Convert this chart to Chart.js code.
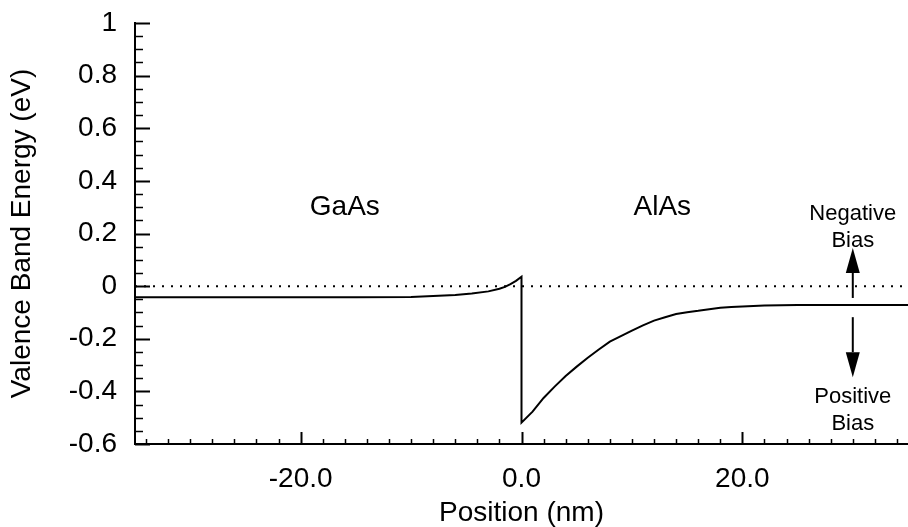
<!DOCTYPE html>
<html>
<head>
<meta charset="utf-8">
<script src="https://cdn.jsdelivr.net/npm/chart.js@4.4.1/dist/chart.umd.min.js"></script>
<style>
  html, body { margin: 0; padding: 0; background: #fff; }
  #wrap { position: relative; width: 908px; height: 527px; }
</style>
</head>
<body>
<div id="wrap"><canvas id="c"></canvas></div>
<script>
// ---- Data ----
const positionNm = [
  -35, -30, -25, -20, -15, -10, -8, -6, -4.5, -3, -2, -1.5, -1, -0.5, 0,
  0, 1, 2, 3, 4, 5, 6, 7, 8, 9, 10, 11, 12, 13, 14, 15, 16, 17, 18, 19, 20, 22, 25, 30, 35
];
const valenceEnergyEv = [
  -0.042, -0.042, -0.042, -0.042, -0.042, -0.041, -0.038, -0.034, -0.028, -0.020, -0.010, -0.003, 0.008, 0.020, 0.036,
  -0.519, -0.477, -0.425, -0.382, -0.342, -0.306, -0.272, -0.241, -0.211, -0.190, -0.169, -0.149, -0.131, -0.118, -0.106,
  -0.099, -0.094, -0.088, -0.082, -0.079, -0.077, -0.074, -0.072, -0.072, -0.072
];
const zeroLineX = [-35, 35];
const zeroLineY = [0, 0];

const xTickValues = [-20, 0, 20];
const xTickLabels = ["-20.0", "0.0", "20.0"];
const yTickValues = [1, 0.8, 0.6, 0.4, 0.2, 0, -0.2, -0.4, -0.6];
const yTickLabels = ["1", "0.8", "0.6", "0.4", "0.2", "0", "-0.2", "-0.4", "-0.6"];

const xTitle = "Position (nm)";
const yTitle = "Valence Band Energy (eV)";

// annotations (data coordinates)
const regionLabels = [
  { text: "GaAs", x: -16, y: 0.27 },
  { text: "AlAs", x: 12.75, y: 0.27 }
];
const biasLabels = [
  { text: "Negative", x: 30, y: 0.251 },
  { text: "Bias", x: 30, y: 0.148 },
  { text: "Positive", x: 30, y: -0.445 },
  { text: "Bias", x: 30, y: -0.548 }
];
const biasArrows = [
  { x: 30, from: -0.045, to: 0.145 },
  { x: 30, from: -0.118, to: -0.346 }
];

const FONT = '"Liberation Sans", Arial, Helvetica, sans-serif';

const toPts = (xs, ys) => xs.map((x, i) => ({ x: x, y: ys[i] }));

const overlayPlugin = {
  id: 'overlay',
  afterDatasetsDraw(chart) {
    const ctx = chart.ctx;
    const xs = chart.scales.x, ys = chart.scales.y;
    const area = chart.chartArea;
    ctx.save();
    ctx.strokeStyle = '#000';
    ctx.fillStyle = '#000';
    // inward y ticks (minor every 0.05, major every 0.2)
    for (let k = -12; k <= 20; k++) {
      const v = k * 0.05;
      const py = Math.round(ys.getPixelForValue(v)) + 0.5;
      const major = (k % 4 === 0);
      ctx.lineWidth = major ? 2 : 1.5;
      ctx.beginPath();
      ctx.moveTo(area.left, py);
      ctx.lineTo(area.left + (major ? 15 : 8), py);
      ctx.stroke();
    }
    // inward x ticks (minor every 2, major every 20)
    for (let k = -17; k <= 17; k++) {
      const v = k * 2;
      const px = Math.round(xs.getPixelForValue(v)) + 0.5;
      const major = (v % 20 === 0);
      ctx.lineWidth = major ? 2 : 1.5;
      ctx.beginPath();
      ctx.moveTo(px, area.bottom);
      ctx.lineTo(px, area.bottom - (major ? 12 : 5));
      ctx.stroke();
    }
    // arrows
    ctx.lineWidth = 2;
    biasArrows.forEach(a => {
      const px = xs.getPixelForValue(a.x);
      const p0 = ys.getPixelForValue(a.from);
      const p1 = ys.getPixelForValue(a.to);
      const dir = p1 < p0 ? -1 : 1;
      const headLen = 25, headHalf = 7;
      ctx.beginPath();
      ctx.moveTo(px, p0);
      ctx.lineTo(px, p1 - dir * headLen);
      ctx.stroke();
      ctx.beginPath();
      ctx.moveTo(px, p1);
      ctx.lineTo(px - headHalf, p1 - dir * headLen);
      ctx.lineTo(px + headHalf, p1 - dir * headLen);
      ctx.closePath();
      ctx.fill();
    });
    // texts
    ctx.textAlign = 'center';
    ctx.textBaseline = 'alphabetic';
    ctx.font = '28px ' + FONT;
    regionLabels.forEach(l => {
      ctx.fillText(l.text, xs.getPixelForValue(l.x), ys.getPixelForValue(l.y));
    });
    ctx.font = '22px ' + FONT;
    biasLabels.forEach(l => {
      ctx.fillText(l.text, xs.getPixelForValue(l.x), ys.getPixelForValue(l.y));
    });
    ctx.restore();
  }
};

new Chart(document.getElementById('c'), {
  type: 'line',
  data: {
    datasets: [
      {
        label: 'Valence band',
        data: toPts(positionNm, valenceEnergyEv),
        borderColor: '#000',
        borderWidth: 2,
        pointRadius: 0,
        tension: 0,
        fill: false
      },
      {
        label: 'Zero',
        data: toPts(zeroLineX, zeroLineY),
        borderColor: '#000',
        borderWidth: 2,
        borderDash: [2, 7],
        pointRadius: 0,
        fill: false
      }
    ]
  },
  options: {
    responsive: true,
    maintainAspectRatio: false,
    devicePixelRatio: 1,
    animation: false,
    layout: { padding: { top: 23, right: 0, left: 0, bottom: 0 } },
    plugins: { legend: { display: false }, tooltip: { enabled: false } },
    scales: {
      x: {
        type: 'linear',
        min: -35, max: 35,
        grid: { display: false, drawTicks: false },
        border: { display: true, color: '#000', width: 2 },
        afterBuildTicks: s => { s.ticks = xTickValues.map(v => ({ value: v })); },
        afterFit: s => { s.height = 83; s.paddingLeft = 0; s.paddingRight = 0; },
        ticks: {
          color: '#000',
          font: { family: FONT, size: 28 },
          padding: 18,
          maxRotation: 0,
          autoSkip: false,
          callback: (v, i) => xTickLabels[i]
        },
        title: {
          display: true, text: xTitle, color: '#000',
          font: { family: FONT, size: 28, lineHeight: 1 },
          padding: { top: 0, bottom: 0 }
        }
      },
      y: {
        type: 'linear',
        min: -0.6, max: 1,
        grid: { display: false, drawTicks: false },
        border: { display: true, color: '#000', width: 2 },
        afterBuildTicks: s => { s.ticks = yTickValues.map(v => ({ value: v })); },
        afterFit: s => { s.width = 135; s.paddingTop = 0; s.paddingBottom = 0; },
        ticks: {
          color: '#000',
          font: { family: FONT, size: 28 },
          padding: 18,
          autoSkip: false,
          callback: (v, i) => yTickLabels[i]
        },
        title: {
          display: true, text: yTitle, color: '#000',
          font: { family: FONT, size: 28, lineHeight: 1 },
          padding: { top: 8, bottom: 0 }
        }
      }
    }
  },
  plugins: [overlayPlugin]
});
</script>
</body>
</html>
